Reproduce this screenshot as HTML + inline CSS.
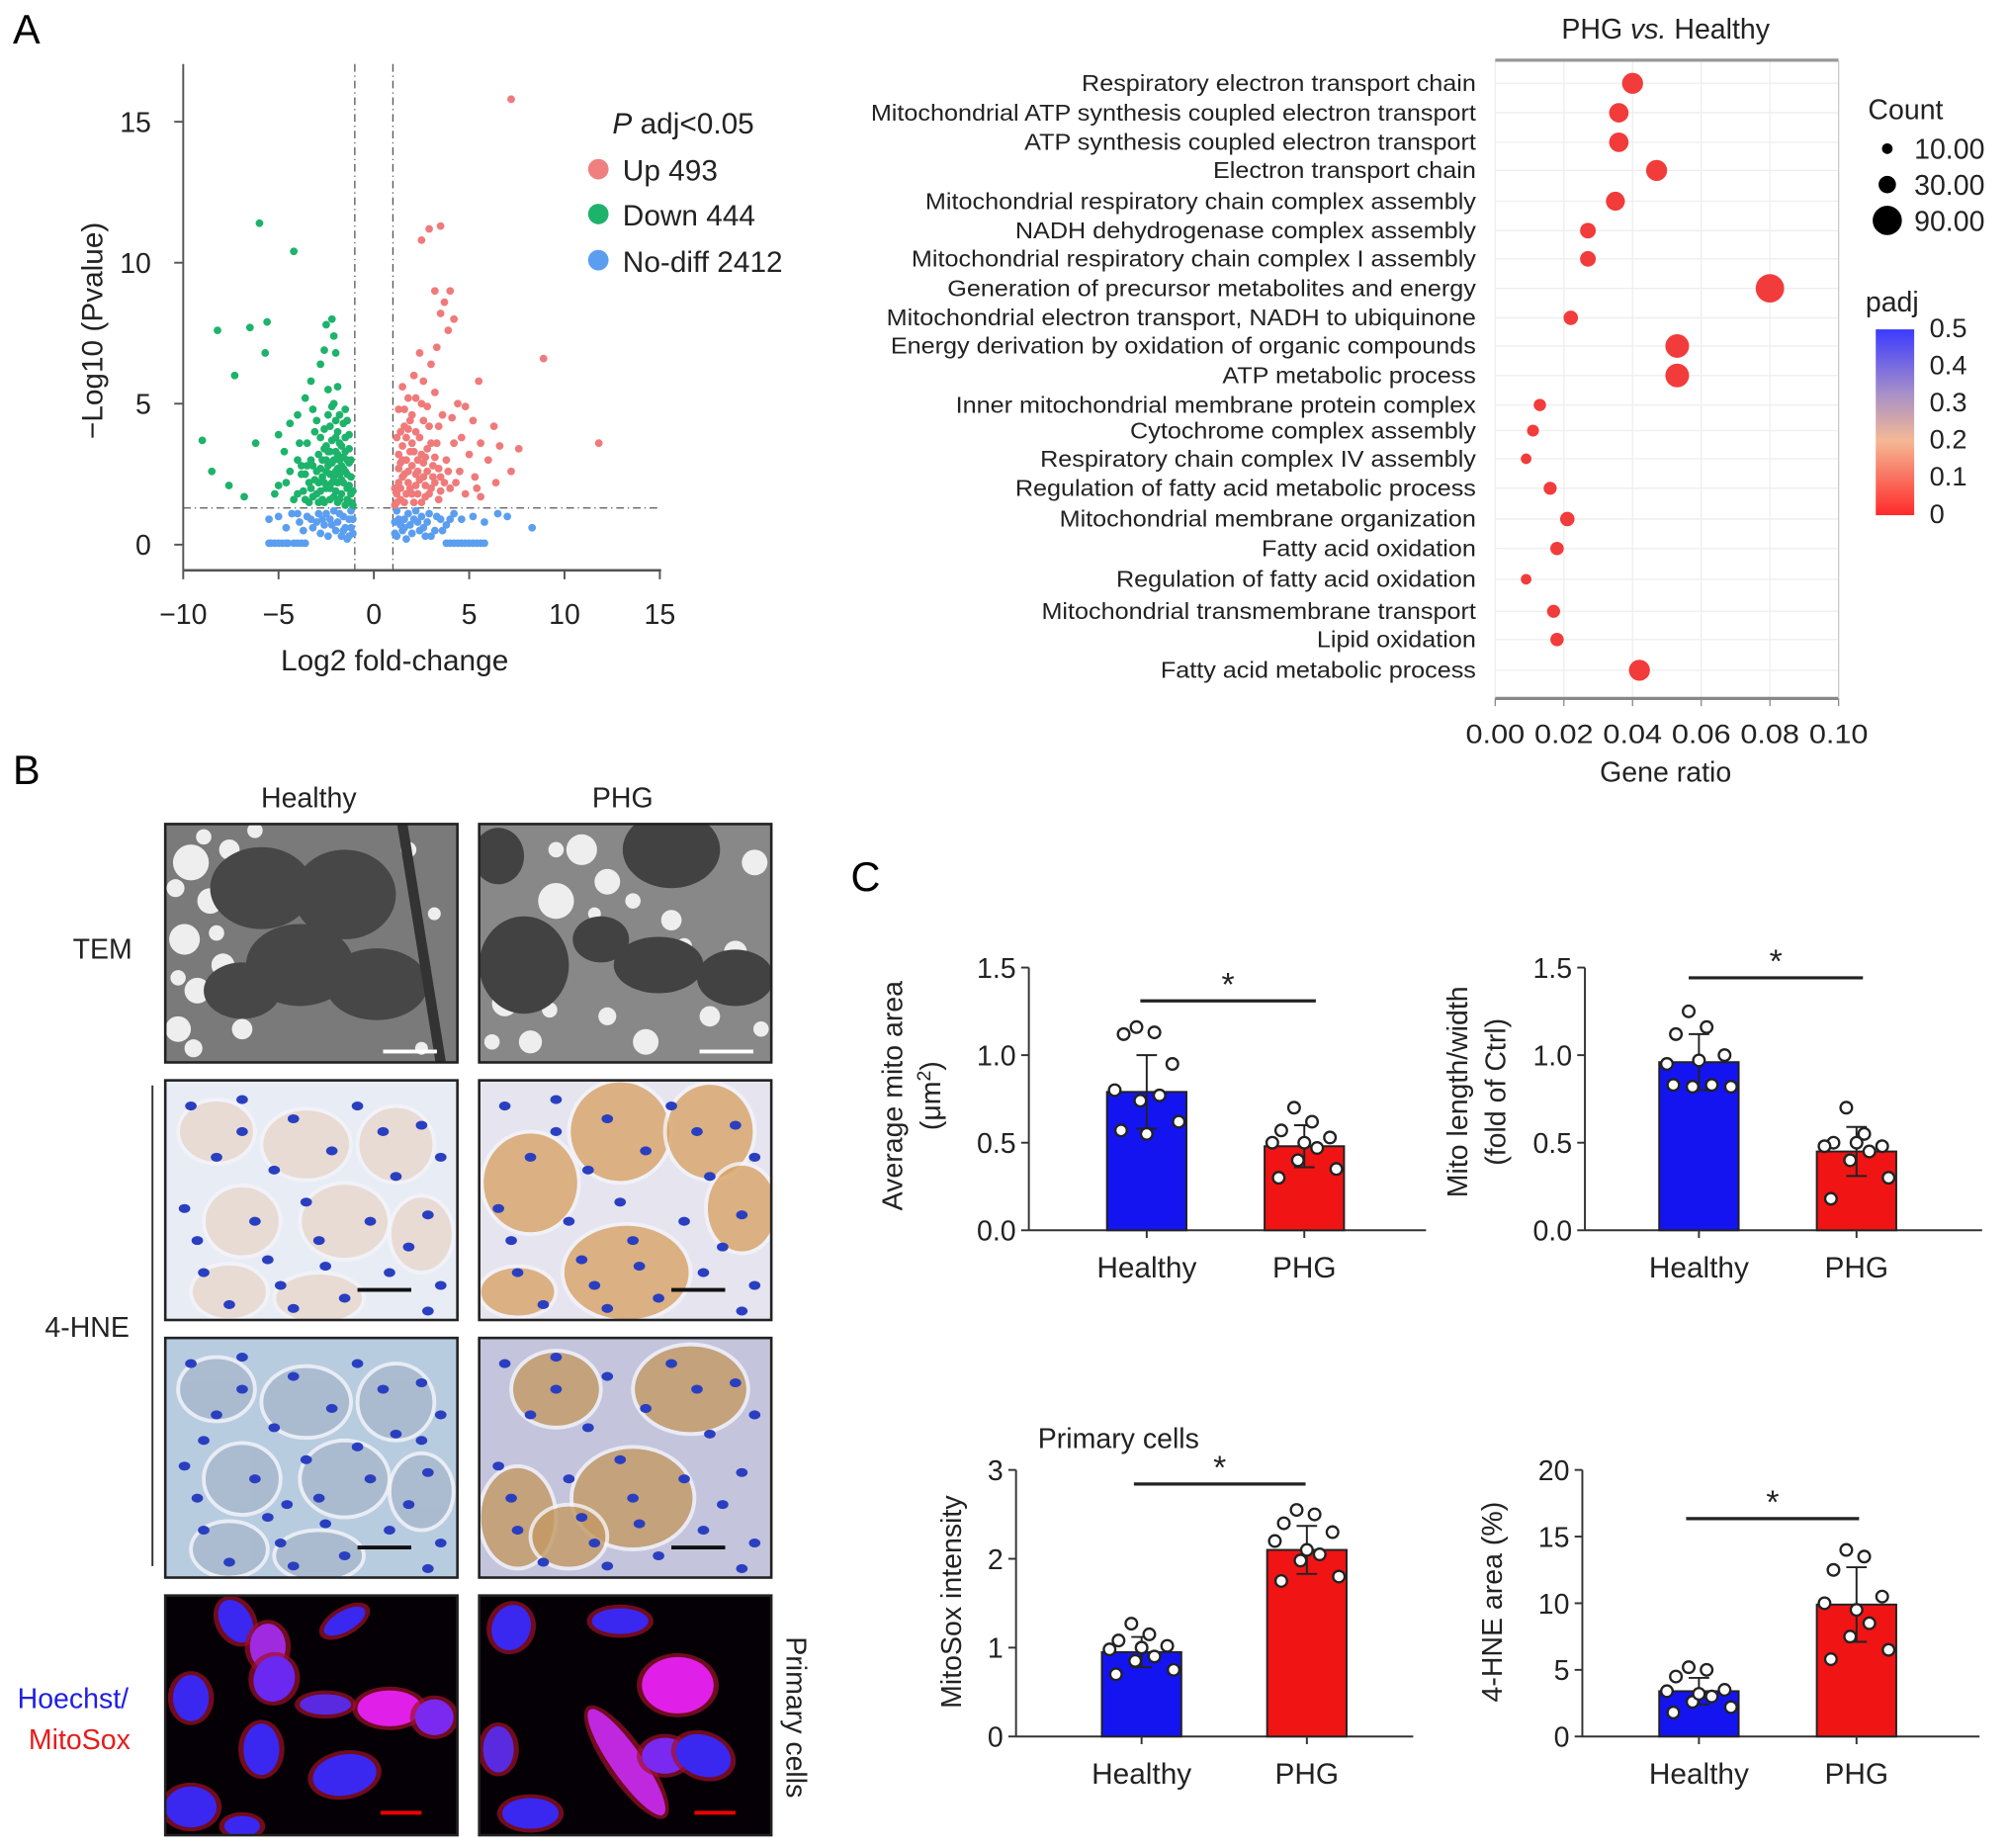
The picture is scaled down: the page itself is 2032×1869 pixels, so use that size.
<!DOCTYPE html>
<html><head><meta charset="utf-8"><style>
html,body{margin:0;padding:0;background:#fff;}
svg{display:block;font-family:"Liberation Sans",sans-serif;}
</style></head><body>
<svg id="fig" width="2032" height="1869" viewBox="0 0 1568 1442" preserveAspectRatio="none" xmlns="http://www.w3.org/2000/svg">
<rect width="1568" height="1442" fill="#fff"/>
<text x="10" y="34" font-size="32">A</text>
<text x="10" y="612" font-size="32">B</text>
<text x="664" y="695" font-size="32">C</text>
<g id="volcano"></g>
<g id="dotplot"></g>
<g id="images"></g>
<g id="bars"></g>
</svg>
<script>
// ---------- Volcano data ----------
const greenPts = [[-6,11.4],[-4.2,10.4],[-8.2,7.6],[-6.5,7.7],[-5.6,7.9],[-5.7,6.8],[-7.3,6],[-9,3.7],[-8.5,2.6],[-7.6,2.1],[-6.2,3.6],[-5,3.9],[-4.4,4.3],[-3.6,5.2],[-3.3,5.8],[-2.5,7.8],[-2.6,6.9],[-2.2,8],[-2.1,7.4],[-2.0,6.8],[-2.8,6.4],[-3.2,4.8],[-4,3.0],[-4.6,2.2],[-5.2,1.8],[-6.8,1.7],[-3.8,2.5],[-2.4,5.5],[-1.9,5.6],[-2.2,4.9],
[-1.2,1.5],[-1.4,2.0],[-1.5,2.6],[-1.6,3.1],[-1.8,3.6],[-1.9,4.0],[-2.0,4.4],[-2.1,3.0],[-2.2,2.2],[-2.3,1.6],[-2.4,2.8],[-2.5,3.5],[-2.6,4.1],[-2.7,2.4],[-2.8,1.9],[-2.9,3.2],[-3.0,2.6],[-3.1,4.0],[-3.2,1.7],[-3.3,3.0],[-3.4,2.2],[-3.5,3.6],[-3.7,1.9],[-3.8,2.8],[-4.0,4.6],[-4.2,1.6],[-4.4,2.6],[-4.7,3.3],[-5.0,2.1],[-1.3,2.9],[-1.5,3.8],[-1.7,1.8],[-1.8,2.5],[-2.0,1.9],[-2.2,3.7],[-2.4,4.6],[-2.6,1.5],[-2.8,3.8],[-3.0,4.4],[-1.4,1.6],[-1.6,2.2],[-1.9,3.2],[-2.3,2.5],[-2.7,3.0],[-3.6,2.5],[-1.1,1.9],[-1.2,2.4],[-1.3,3.4],[-1.6,4.3],[-2.1,5.0],[-1.7,2.8],[-2.0,2.6],[-2.5,2.0],[-1.9,1.5],[-1.5,1.4],[-2.9,1.5],[-3.4,1.5],[-4.0,1.8],[-3.9,3.6],[-2.4,3.3],
[-1.1,1.4],[-1.2,1.8],[-1.3,2.1],[-1.4,2.5],[-1.4,3.0],[-1.5,3.3],[-1.6,2.7],[-1.7,3.5],[-1.7,2.3],[-1.8,1.6],[-1.8,3.0],[-1.9,2.2],[-1.9,2.7],[-2.0,3.3],[-2.0,3.8],[-2.1,2.4],[-2.1,1.7],[-2.2,2.9],[-2.3,2.0],[-2.3,3.3],[-2.4,2.1],[-2.5,2.6],[-2.5,3.0],[-2.6,3.4],[-2.6,2.2],[-2.7,1.6],[-2.8,2.7],[-2.9,2.2],[-3.0,1.8],[-3.1,2.3],[-3.2,2.8],[-3.3,2.0],[-3.5,2.8],[-3.6,1.6],[-1.2,3.0],[-1.3,3.9],[-1.4,4.4],[-1.5,4.8],[-1.8,4.6],[-2.3,4.2]];
const redPts = [[2.9,11.2],[2.5,10.8],[3.5,11.3],[7.2,15.8],[8.9,6.6],[11.8,3.6],[6.3,4.2],[5.5,5.8],[4.8,4.9],
[1.2,1.5],[1.3,2.2],[1.4,2.9],[1.5,3.5],[1.6,4.2],[1.7,1.8],[1.8,2.6],[1.9,3.3],[2.0,4.6],[2.1,1.5],[2.2,2.1],[2.3,3.0],[2.4,3.8],[2.5,5.0],[2.6,2.4],[2.7,1.7],[2.8,3.4],[2.9,4.2],[3.0,2.0],[3.1,2.8],[3.2,5.4],[3.3,3.6],[3.4,1.6],[3.5,2.4],[3.6,4.6],[3.8,3.0],[4.0,2.0],[4.2,3.6],[4.5,2.6],[4.8,1.8],[5.0,3.2],[5.3,2.4],[5.6,1.7],[6.0,3.0],[6.4,2.2],[1.2,3.8],[1.3,4.8],[1.5,5.6],[1.8,5.2],[2.1,6.0],[2.4,6.8],[2.6,5.8],[3.0,6.4],[3.3,7.0],[3.5,8.2],[3.7,8.6],[3.9,7.6],[3.2,9.0],[4.2,8.0],[4.0,9.0],[4.1,4.5],[4.4,5.0],[5.2,4.4],[5.6,3.6],[6.6,3.5],[7.2,2.6],[7.6,3.4],[1.4,1.6],[1.6,2.5],[1.9,2.0],[2.3,2.6],[2.7,3.1],[3.2,2.2],[1.1,2.0],[1.3,2.7],[2.0,3.6],[2.6,4.4],
[1.1,1.4],[1.2,1.8],[1.3,3.2],[1.4,2.0],[1.5,2.4],[1.5,3.0],[1.6,1.5],[1.7,3.0],[1.7,3.8],[1.8,2.2],[1.9,4.4],[2.0,1.8],[2.0,2.8],[2.1,3.3],[2.2,2.5],[2.2,4.0],[2.3,1.8],[2.4,2.3],[2.5,3.2],[2.5,1.5],[2.6,2.9],[2.7,2.1],[2.8,2.6],[2.9,1.8],[3.0,3.6],[3.1,2.4],[3.2,3.1],[3.4,2.7],[3.5,1.9],[3.7,2.2],[3.9,2.6],[4.3,2.2],[1.4,4.0],[1.6,4.8],[1.8,4.1],[2.2,5.2],[2.8,4.9],[3.4,4.2],[4.6,3.8],[5.4,2.0]];
const bluePts = [[-5.5,0.05],[-5,0.05],[-4.5,0.05],[-4,0.05],[-3.6,0.05],[-5.2,0.05],[-4.8,0.05],[-4.2,0.05],[3.8,0.05],[4.2,0.05],[4.6,0.05],[5,0.05],[5.4,0.05],[5.8,0.05],[4.4,0.05],[5.2,0.05],
[-1.1,0.4],[-1.3,0.9],[-1.5,0.6],[-1.8,1.1],[-2.0,0.5],[-2.3,0.9],[-2.6,0.7],[-2.9,1.1],[-3.2,0.6],[-3.5,1.0],[-3.9,0.8],[-4.3,1.1],[-4.6,0.6],[-5.0,1.0],[-5.5,0.9],[-1.2,1.2],[-1.7,0.3],[-2.1,1.2],[-2.8,0.4],[-1.4,0.2],[-1.9,0.8],[-2.4,0.3],[-3.0,0.8],
[1.1,0.4],[1.3,0.9],[1.5,0.5],[1.8,1.1],[2.0,0.4],[2.3,0.8],[2.6,0.6],[2.9,1.1],[3.2,0.5],[3.5,0.9],[3.8,0.7],[4.2,1.1],[4.6,0.9],[5.2,1.0],[5.8,0.8],[6.5,1.1],[1.2,1.2],[1.7,0.2],[2.2,1.2],[2.7,0.3],[8.3,0.6],[7.0,1.0],[1.4,0.7],[1.9,0.7],[2.5,1.0],[3.0,0.3],
[-1.1,0.9],[-1.2,0.6],[-1.3,0.3],[-1.6,1.0],[-1.6,0.5],[-2.2,0.7],[-2.5,1.1],[-2.7,0.9],[-3.3,0.9],[-3.7,0.5],[-4.0,1.1],[1.1,0.8],[1.2,0.3],[1.6,0.9],[1.6,0.6],[2.1,0.9],[2.4,0.5],[2.8,0.8],[3.3,1.0],[3.6,0.5],[4.0,0.9],[-5.4,0.05],[-4.6,0.05],[-3.8,0.05],[4.0,0.05],[4.8,0.05],[5.6,0.05]];
const vXTicks = [-10,-5,0,5,10,15];
const vYTicks = [0,5,10,15];

// ---------- GO dot plot data ----------
const goTerms = ["Respiratory electron transport chain","Mitochondrial ATP synthesis coupled electron transport","ATP synthesis coupled electron transport","Electron transport chain","Mitochondrial respiratory chain complex assembly","NADH dehydrogenase complex assembly","Mitochondrial respiratory chain complex I assembly","Generation of precursor metabolites and energy","Mitochondrial electron transport, NADH to ubiquinone","Energy derivation by oxidation of organic compounds","ATP metabolic process","Inner mitochondrial membrane protein complex","Cytochrome complex assembly","Respiratory chain complex IV assembly","Regulation of fatty acid metabolic process","Mitochondrial membrane organization","Fatty acid oxidation","Regulation of fatty acid oxidation","Mitochondrial transmembrane transport","Lipid oxidation","Fatty acid metabolic process"];
const goRowY = [65,88,111,133,157,180,202,225,248,270,293,316,336,358,381,405,428,452,477,499,523];
const goRatio = [0.040,0.036,0.036,0.047,0.035,0.027,0.027,0.080,0.022,0.053,0.053,0.013,0.011,0.009,0.016,0.021,0.018,0.009,0.017,0.018,0.042];
const goCount = [45,38,38,45,36,24,24,85,20,58,58,14,13,10,16,20,17,10,16,17,45];
const goXTicks = [0,0.02,0.04,0.06,0.08,0.10];
const countLegend = [10,30,90];
const padjTicks = [0.5,0.4,0.3,0.2,0.1,0];

// ---------- Bar chart data ----------
const barCats = ["Healthy","PHG"];
const c1Means = [0.79,0.48], c1SD = [0.21,0.12];
const c1H = [1.16,1.13,1.12,0.95,0.80,0.77,0.74,0.62,0.57,0.55];
const c1P = [0.70,0.62,0.57,0.53,0.50,0.47,0.40,0.35,0.30,0.50];
const c2Means = [0.96,0.45], c2SD = [0.16,0.14];
const c2H = [1.25,1.16,1.12,1.00,0.95,0.83,0.82,0.82,0.83,0.97];
const c2P = [0.70,0.55,0.50,0.48,0.48,0.45,0.40,0.30,0.18,0.50];
const c3Means = [0.95,2.1], c3SD = [0.17,0.27];
const c3H = [1.27,1.15,1.08,1.02,0.98,0.90,0.85,0.75,0.70,1.0];
const c3P = [2.55,2.50,2.40,2.30,2.20,2.05,1.98,1.80,1.75,2.10];
const c4Means = [3.4,9.9], c4SD = [1.0,2.8];
const c4H = [5.2,5.0,4.5,3.5,3.4,3.0,2.6,2.2,1.8,3.2];
const c4P = [14.0,13.5,12.5,10.5,10.0,8.5,7.5,6.5,5.8,9.5];
const c1Ticks=[0,0.5,1.0,1.5], c3Ticks=[0,1,2,3], c4Ticks=[0,5,10,15,20];

const NS="http://www.w3.org/2000/svg";
function mk(parent,tag,attrs,txt){const e=document.createElementNS(NS,tag);for(const k in attrs)e.setAttribute(k,attrs[k]);if(txt!==undefined)e.textContent=txt;parent.appendChild(e);return e;}

// ===== Volcano =====
(function(){
 const g=document.getElementById('volcano');
 const X=v=>291.8+v*14.88, Y=v=>425-v*22;
 mk(g,'line',{x1:143,y1:50,x2:143,y2:445,stroke:'#555','stroke-width':1.5});
 mk(g,'line',{x1:143,y1:445,x2:516,y2:445,stroke:'#555','stroke-width':2});
 vXTicks.forEach(t=>{mk(g,'line',{x1:X(t),y1:445,x2:X(t),y2:452,stroke:'#555','stroke-width':1.5});
  const e=mk(g,'text',{x:X(t),y:487,'font-size':22,'text-anchor':'middle',fill:'#222'},t<0?'\u2212'+(-t):t);
  });
 vYTicks.forEach(t=>{mk(g,'line',{x1:136,y1:Y(t),x2:143,y2:Y(t),stroke:'#555','stroke-width':1.5});
  const e=mk(g,'text',{x:118,y:Y(t)+8,'font-size':22,'text-anchor':'end',fill:'#222'},t);
  });
 mk(g,'line',{x1:X(-1),y1:50,x2:X(-1),y2:445,stroke:'#555','stroke-dasharray':'6,3,1,3'});
 mk(g,'line',{x1:X(1),y1:50,x2:X(1),y2:445,stroke:'#555','stroke-dasharray':'6,3,1,3'});
 mk(g,'line',{x1:143,y1:Y(1.3),x2:515,y2:Y(1.3),stroke:'#555','stroke-dasharray':'6,3,1,3'});
 const draw=(pts,col,nm)=>pts.forEach(p=>{const c=mk(g,'circle',{cx:X(p[0]),cy:Y(p[1]),r:3,fill:col});
  });
 draw(bluePts,'#5b9ef0','point-nodiff');draw(greenPts,'#1db36b','point-down');draw(redPts,'#f07a7a','point-up');
 let t=mk(g,'text',{x:308,y:523,'font-size':23,'text-anchor':'middle',fill:'#222'},'Log2 fold-change');
 
 t=mk(g,'text',{transform:'translate(80,258) rotate(-90)','font-size':23,'text-anchor':'middle',fill:'#222'},'\u2212Log10 (Pvalue)');
 
 t=mk(g,'text',{x:478,y:104,'font-size':23,fill:'#222'});t.innerHTML='<tspan font-style="italic">P</tspan> adj&lt;0.05';
 
 [['Up 493','#f08080',133],['Down 444','#1db36b',168],['No-diff 2412','#5b9ef0',204]].forEach(l=>{
  const c=mk(g,'circle',{cx:467,cy:l[2]-1,r:8,fill:l[1]});
  const e=mk(g,'text',{x:486,y:l[2]+8,'font-size':23,fill:'#222'},l[0]);});
})();

// ===== GO dot plot =====
(function(){
 const g=document.getElementById('dotplot');
 const X=v=>1167+v*2680;
 mk(g,'rect',{x:1167,y:47,width:268,height:498,fill:'#fff'});
 goXTicks.forEach(t=>mk(g,'line',{x1:X(t),y1:47,x2:X(t),y2:545,stroke:'#eee'}));
 goRowY.forEach(y=>mk(g,'line',{x1:1167,y1:y,x2:1435,y2:y,stroke:'#eee'}));
 mk(g,'line',{x1:1167,y1:47,x2:1435,y2:47,stroke:'#999','stroke-width':2.5});
 mk(g,'line',{x1:1167,y1:545,x2:1435,y2:545,stroke:'#888','stroke-width':2.5});
 mk(g,'line',{x1:1435,y1:47,x2:1435,y2:545,stroke:'#ccc'});
 goXTicks.forEach(t=>{mk(g,'line',{x1:X(t),y1:545,x2:X(t),y2:551,stroke:'#888'});
  const e=mk(g,'text',{x:X(t),y:580,'font-size':21,'text-anchor':'middle',fill:'#222',textLength:46,lengthAdjust:'spacingAndGlyphs'},t.toFixed(2));
  });
 goTerms.forEach((s,i)=>{
  const e=mk(g,'text',{x:1152,y:goRowY[i]+6,'font-size':18,'text-anchor':'end',fill:'#222',transform:`translate(1152 0) scale(1.08 1) translate(-1152 0)`},s);
  
  const c=mk(g,'circle',{cx:X(goRatio[i]),cy:goRowY[i],r:1.15*Math.sqrt(goCount[i])+0.5,fill:'#f23b3b'});
  
 });
 let t=mk(g,'text',{x:1300,y:610,'font-size':22,'text-anchor':'middle',fill:'#222'},'Gene ratio');
 
 t=mk(g,'text',{x:1300,y:30,'font-size':22,'text-anchor':'middle',fill:'#222'});t.innerHTML='PHG <tspan font-style="italic">vs.</tspan> Healthy';
 
 t=mk(g,'text',{x:1458,y:93,'font-size':22,fill:'#222'},'Count');
 countLegend.forEach((c,i)=>{const y=116+i*28;
  const d=mk(g,'circle',{cx:1473,cy:y,r:1.15*Math.sqrt(c)+0.5,fill:'#000'});
  const e=mk(g,'text',{x:1494,y:y+8,'font-size':22,fill:'#222'},c.toFixed(2));});
 t=mk(g,'text',{x:1456,y:243,'font-size':22,fill:'#222'},'padj');
 const defs=mk(g,'defs',{});const lg=mk(defs,'linearGradient',{id:'pg',x1:0,y1:0,x2:0,y2:1});
 mk(lg,'stop',{offset:'0','stop-color':'#3b3bff'});mk(lg,'stop',{offset:'0.35','stop-color':'#a890c8'});mk(lg,'stop',{offset:'0.6','stop-color':'#f4b894'});mk(lg,'stop',{offset:'1','stop-color':'#ff2a2a'});
 const cb=mk(g,'rect',{x:1464,y:257,width:30,height:145,fill:'url(#pg)'});
 padjTicks.forEach((p,i)=>{const e=mk(g,'text',{x:1506,y:263+i*29,'font-size':21,fill:'#222'},p);});
})();

// ===== Images =====
(function(){
 const g=document.getElementById('images');
 const lab=(x,y,s,nm,extra)=>{const e=mk(g,'text',Object.assign({x:x,y:y,'font-size':22,'text-anchor':'middle',fill:'#222'},extra||{}),s);return e;};
 lab(241,630,'Healthy','col-label-healthy');lab(486,630,'PHG','col-label-phg');
 lab(80,748,'TEM','row-label-tem');lab(68,1043,'4-HNE','row-label-4hne');
 lab(57,1333,'Hoechst/','row-label-hoechst',{fill:'#2020e0'});lab(62,1365,'MitoSox','row-label-mitosox',{fill:'#e51c1c'});
 lab(0,0,'Primary cells','row-label-primary-cells',{transform:'translate(614,1340) rotate(90)'});
 mk(g,'line',{x1:119,y1:847,x2:119,y2:1222,stroke:'#333','stroke-width':1.5});
 const panel=(x,y,w,h,bg,nm)=>{const s=mk(g,'svg',{x:x,y:y,width:w,height:h,viewBox:`0 0 ${w} ${h}`});
   mk(s,'rect',{width:w,height:h,fill:bg});return s;};
 const border=(x,y,w,h)=>mk(g,'rect',{x:x,y:y,width:w,height:h,fill:'none',stroke:'#222','stroke-width':2});
 // TEM
 let s=panel(129,643,228,186,'#7a7a7a','tem-healthy');
 [[20,30,14],[35,60,10],[15,90,12],[45,110,9],[25,130,10],[50,20,8],[10,160,10],[60,160,8],[8,50,7],[30,10,6],[40,85,6],[10,120,6],[45,140,7],[22,175,7],[190,20,6],[210,70,5],[200,175,5],[70,5,6]].forEach(c=>mk(s,'circle',{cx:c[0],cy:c[1],r:c[2],fill:'#eee'}));
 [[75,50,40,32],[140,55,40,35],[105,110,42,32],[165,125,40,28],[60,130,30,22]].forEach(e=>mk(s,'ellipse',{cx:e[0],cy:e[1],rx:e[2],ry:e[3],fill:'#474747'}));
 mk(s,'line',{x1:185,y1:0,x2:215,y2:186,stroke:'#333','stroke-width':8});
 mk(s,'rect',{x:170,y:176,width:42,height:3,fill:'#fff'});
 s=panel(374,643,228,186,'#888','tem-phg');
 [[80,20,12],[100,45,10],[60,60,14],[20,140,10],[40,170,9],[150,75,8],[200,100,9],[130,170,10],[215,30,10],[180,150,8],[60,20,6],[120,60,6],[90,70,5],[10,170,6],[55,145,6],[100,150,7],[160,95,6],[220,160,6]].forEach(c=>mk(s,'circle',{cx:c[0],cy:c[1],r:c[2],fill:'#eee'}));
 [[150,20,38,30],[35,110,35,38],[95,90,22,18],[140,110,35,22],[200,120,30,22],[15,25,20,22]].forEach(e=>mk(s,'ellipse',{cx:e[0],cy:e[1],rx:e[2],ry:e[3],fill:'#424242'}));
 mk(s,'rect',{x:172,y:176,width:42,height:3,fill:'#fff'});
 // IHC
 const ihc=(x,y,bg,brown,cells,nuc,nm)=>{const s=panel(x,y,228,187,bg,nm);
   cells.forEach(c=>mk(s,'ellipse',{cx:c[0],cy:c[1],rx:c[2],ry:c[3],fill:brown,opacity:0.8,stroke:'#f4f4fa','stroke-width':3}));
   nuc.forEach(n=>mk(s,'ellipse',{cx:n[0],cy:n[1],rx:4.5,ry:3.5,fill:'#2a3fc0'}));
   mk(s,'rect',{x:150,y:162,width:42,height:3,fill:'#111'});return s;};
 const nucA=[[20,20],[60,15],[100,30],[150,20],[200,35],[40,60],[85,70],[130,55],[180,75],[215,60],[15,100],[70,110],[110,95],[160,110],[205,105],[30,150],[80,140],[125,145],[175,150],[215,160],[50,175],[100,178],[140,170],[190,130],[60,40],[120,125],[25,125],[170,40],[90,160],[205,180]];
 ihc(129,843,'#e8ecf4','#e8d8cc',[[40,40,30,25],[110,50,35,28],[180,50,30,30],[60,110,30,28],[140,110,35,30],[200,120,25,30],[50,165,30,22],[120,170,35,20]],nucA,'ihc-healthy-1');
 ihc(374,843,'#e6e4ee','#d9a468',[[40,80,38,40],[110,40,40,40],[180,40,35,38],[205,100,28,35],[115,150,50,38],[30,165,30,20]],nucA,'ihc-phg-1');
 ihc(129,1044,'#b8cce0','#a8b8cc',[[40,40,30,25],[110,50,35,28],[180,50,30,30],[60,110,30,28],[140,110,35,30],[200,120,25,30],[50,165,30,22],[120,170,35,20]],nucA.concat([[30,80],[150,85],[95,130],[200,80]]),'ihc-healthy-2');
 ihc(374,1044,'#c4c4dc','#c49a64',[[165,40,45,35],[120,125,48,40],[30,140,30,40],[70,155,30,25],[60,40,35,30]],nucA,'ihc-phg-2');
 // Fluorescence
 const fl=(x,y,cells,nm)=>{const s=panel(x,y,228,187,'#050005',nm);
   cells.forEach(c=>{mk(s,'ellipse',{cx:c[0],cy:c[1],rx:c[2]+4,ry:c[3]+3,fill:'#a0102a',opacity:0.7,transform:`rotate(${c[4]} ${c[0]} ${c[1]})`});
     mk(s,'ellipse',{cx:c[0],cy:c[1],rx:c[2],ry:c[3],fill:c[5],transform:`rotate(${c[4]} ${c[0]} ${c[1]})`});});
   mk(s,'rect',{x:168,y:168,width:32,height:3,fill:'#e00'});};
 fl(129,1245,[[55,20,12,18,-30,'#3a28f0'],[140,20,18,8,-30,'#3a28f0'],[80,40,14,18,0,'#a02ae0'],[20,80,14,18,0,'#3a28f0'],[85,65,16,18,20,'#6a28f0'],[125,85,20,8,0,'#5a2ae0'],[175,88,25,14,0,'#e020e8'],[210,95,15,14,0,'#7a2af0'],[75,120,14,20,0,'#3a28f0'],[140,140,25,16,-10,'#3a28f0'],[20,165,20,16,0,'#3a28f0'],[60,180,14,8,0,'#3a28f0']],'fluor-healthy');
 fl(374,1245,[[25,25,15,18,20,'#3a28f0'],[110,20,22,10,0,'#3a28f0'],[155,70,28,22,0,'#e020e8'],[15,120,12,18,0,'#5a2ae0'],[115,130,12,50,-35,'#c028e0'],[145,125,18,14,0,'#7a2af0'],[175,125,22,16,20,'#3a28f0'],[40,170,22,12,0,'#3a28f0']],'fluor-phg');
 [[129,643,228,186],[374,643,228,186],[129,843,228,187],[374,843,228,187],[129,1044,228,187],[374,1044,228,187],[129,1245,228,187],[374,1245,228,187]].forEach(b=>border(...b));
})();

// ===== Bar charts =====
function barChart(o){
 const g=mk(document.getElementById('bars'),'g',{});
 
 const Y=v=>o.y0-(v/o.max)*(o.y0-o.yTop);
 mk(g,'line',{x1:o.ax,y1:o.yTop,x2:o.ax,y2:o.y0,stroke:'#333','stroke-width':1.5});
 mk(g,'line',{x1:o.ax,y1:o.y0,x2:o.ax+310,y2:o.y0,stroke:'#333','stroke-width':1.5});
 o.ticks.forEach(t=>{mk(g,'line',{x1:o.ax-6,y1:Y(t),x2:o.ax,y2:Y(t),stroke:'#333','stroke-width':1.5});
  const e=mk(g,'text',{x:o.ax-10,y:Y(t)+8,'font-size':22,'text-anchor':'end',fill:'#222'},o.fmt(t));
  });
 const cols=['#1414f0','#f01414'];
 o.means.forEach((m,i)=>{const cx=o.cx[i];
  const b=mk(g,'rect',{x:cx-31,y:Y(m),width:62,height:o.y0-Y(m),fill:cols[i],stroke:'#222','stroke-width':1.5});
  
  mk(g,'line',{x1:cx,y1:Y(m+o.sd[i]),x2:cx,y2:Y(m-o.sd[i]),stroke:'#222','stroke-width':1.5});
  mk(g,'line',{x1:cx-8,y1:Y(m+o.sd[i]),x2:cx+8,y2:Y(m+o.sd[i]),stroke:'#222','stroke-width':1.5});
  mk(g,'line',{x1:cx-8,y1:Y(m-o.sd[i]),x2:cx+8,y2:Y(m-o.sd[i]),stroke:'#222','stroke-width':1.5});
  mk(g,'line',{x1:cx,y1:o.y0,x2:cx,y2:o.y0+6,stroke:'#333','stroke-width':1.5});
  const pts=o.pts[i];const offs=[-8,6,-18,20,-25,10,-5,25,-20,0];
  pts.forEach((v,j)=>{const c=mk(g,'circle',{cx:cx+offs[j%offs.length],cy:Y(v),r:4.5,fill:'#fff',stroke:'#222','stroke-width':1.8});
   });
  const e=mk(g,'text',{x:cx,y:o.y0+37,'font-size':23,'text-anchor':'middle',fill:'#222'},barCats[i]);
  
 });
 mk(g,'line',{x1:o.sig[0],y1:o.sig[2],x2:o.sig[1],y2:o.sig[2],stroke:'#222','stroke-width':2.5});
 let e=mk(g,'text',{x:(o.sig[0]+o.sig[1])/2,y:o.sig[2]-4,'font-size':26,'text-anchor':'middle',fill:'#222'},'*');
 
 o.ylab.forEach((l,k)=>{e=mk(g,'text',{transform:`translate(${l[0]},${o.ymid}) rotate(-90)`,'font-size':22,'text-anchor':'middle',fill:'#222'});
  e.innerHTML=l[1];});
 return g;
}
barChart({name:'chart-mito-area',ax:803,y0:960,yTop:755,max:1.5,ticks:c1Ticks,fmt:t=>t.toFixed(1),means:c1Means,sd:c1SD,pts:[c1H,c1P],cx:[895,1018],sig:[890,1027,781],ylab:[[704,'Average mito area'],[734,'(\u03bcm<tspan dy="-8" font-size="15">2</tspan><tspan dy="8">)</tspan>']],ymid:855});
barChart({name:'chart-mito-length-width',ax:1237,y0:960,yTop:755,max:1.5,ticks:c1Ticks,fmt:t=>t.toFixed(1),means:c2Means,sd:c2SD,pts:[c2H,c2P],cx:[1326,1449],sig:[1318,1454,763],ylab:[[1145,'Mito length/width'],[1175,'(fold of Ctrl)']],ymid:852});
barChart({name:'chart-mitosox',ax:793,y0:1355,yTop:1147,max:3,ticks:c3Ticks,fmt:t=>t,means:c3Means,sd:c3SD,pts:[c3H,c3P],cx:[891,1020],sig:[885,1019,1158],ylab:[[750,'MitoSox intensity']],ymid:1250});
barChart({name:'chart-4hne-area',ax:1235,y0:1355,yTop:1147,max:20,ticks:c4Ticks,fmt:t=>t,means:c4Means,sd:c4SD,pts:[c4H,c4P],cx:[1326,1449],sig:[1316,1451,1185],ylab:[[1172,'4-HNE area (%)']],ymid:1250});
(function(){const e=mk(document.getElementById('bars'),'text',{x:873,y:1130,'font-size':22,'text-anchor':'middle',fill:'#222'},'Primary cells');
 })();
</script>
</body></html>
